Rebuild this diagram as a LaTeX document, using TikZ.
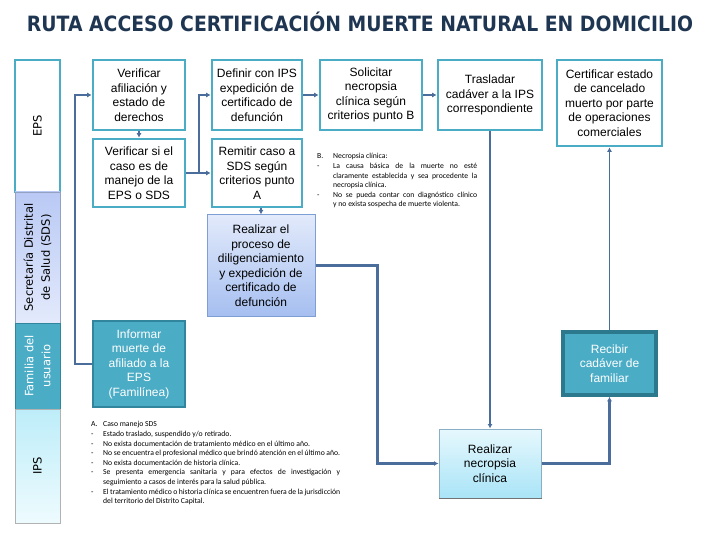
\documentclass[tikz,border=0pt]{standalone}
\usepackage{fontspec}
\setmainfont{Liberation Sans}
\newfontfamily\titlefont{DejaVu Sans}
\newfontfamily\notefont{Carlito}
\newfontfamily\lanefont{DejaVu Sans}
\usetikzlibrary{arrows.meta}
\hyphenpenalty=10000
\exhyphenpenalty=10000
\definecolor{tealb}{HTML}{4BACC6}
\definecolor{tealdk}{HTML}{31859C}
\definecolor{conncol}{HTML}{4A6D9C}
\definecolor{navyt}{HTML}{1F3652}
\definecolor{procbord}{HTML}{7E9FD4}
\definecolor{proctop}{HTML}{E2EAFB}
\definecolor{procbot}{HTML}{A6BFF0}
\definecolor{necbord}{HTML}{8AAEC4}
\definecolor{nectop}{HTML}{E6F8FD}
\definecolor{necbot}{HTML}{A9E4F7}
\definecolor{sdsa}{HTML}{E3EAFC}
\definecolor{sdsb}{HTML}{B9C9F4}
\definecolor{ipsa}{HTML}{EEFBFE}
\definecolor{ipsb}{HTML}{BDEDF9}
\tikzset{
  wbox/.style={draw=tealb, line width=2.6pt, fill=white, align=center, inner sep=1pt,
    font=\fontsize{12}{14.5}\selectfont},
  fbox/.style={draw=tealdk, line width=2.6pt, fill=tealb, text=white, align=center, inner sep=1pt,
    font=\fontsize{12}{14.5}\selectfont},
  lanebox/.style={rotate=90, align=center, inner sep=0pt, font=\lanefont\fontsize{11.5}{17}\selectfont},
  conn/.style={draw=conncol, line width=2.2pt, -{Latex[length=4.5pt,width=5pt]}},
  connthin/.style={draw=conncol, line width=1.4pt, -{Latex[length=4.5pt,width=5pt]}},
  notetxt/.style={anchor=north west, inner sep=0pt, font=\notefont\fontsize{7.7}{9.6}\selectfont}
}
\begin{document}
\begin{tikzpicture}[x=1pt,y=-1pt]
\useasboundingbox (0,0) rectangle (720,540);
% title
\node[text=navyt] (title) at (360,22) {\scalebox{1}[1.12]{\resizebox{666pt}{!}{\titlefont\bfseries RUTA ACCESO CERTIFICACIÓN MUERTE NATURAL EN DOMICILIO}}};
% lanes
\node[lanebox, draw=tealb, line width=2.5pt, fill=white, minimum width=132pt, minimum height=45pt] (leps) at (37.5,126) {EPS};
\node[lanebox, draw=sdsb!80!black, line width=0.6pt, top color=sdsb, bottom color=sdsa, minimum width=131pt, minimum height=45pt] (lsds) at (37.5,257.5) {Secretaría Distrital\\de Salud (SDS)};
\node[lanebox, draw=tealdk, line width=1pt, fill=tealb, text=white, minimum width=86pt, minimum height=45pt] (lfam) at (37.5,366) {Familia del\\usuario};
\node[lanebox, draw=black!30, line width=0.6pt, top color=ipsb, bottom color=ipsa, minimum width=114pt, minimum height=45pt] (lips) at (37.5,466) {IPS};
% boxes
\node[wbox, minimum width=92pt, minimum height=70pt] (ver) at (139,95) {Verificar\\afiliación y\\estado de\\derechos};
\node[wbox, minimum width=92pt, minimum height=68pt] (versi) at (139,173) {Verificar si el\\caso es de\\manejo de la\\EPS o SDS};
\node[wbox, minimum width=90pt, minimum height=70pt] (def) at (257,95) {Definir con IPS\\expedición de\\certificado de\\defunción};
\node[wbox, minimum width=90pt, minimum height=68pt] (rem) at (257,173) {Remitir caso a\\SDS según\\criterios punto\\A};
\node[wbox, minimum width=102pt, minimum height=70pt] (sol) at (371,95) {Solicitar\\necropsia\\clínica según\\criterios punto B};
\node[wbox, minimum width=104pt, minimum height=70pt] (tra) at (490,95) {Trasladar\\cadáver a la IPS\\correspondiente};
\node[wbox, minimum width=105pt, minimum height=86pt] (cer) at (609.5,103) {Certificar estado\\de cancelado\\muerto por parte\\de operaciones\\comerciales};
\node[draw=procbord, line width=1pt, top color=proctop, bottom color=procbot, align=center, inner sep=1pt,
  font=\fontsize{12}{14.5}\selectfont, minimum width=108pt, minimum height=101pt] (proc) at (261,265.5) {Realizar el\\proceso de\\diligenciamiento\\y expedición de\\certificado de\\defunción};
\node[fbox, minimum width=92pt, minimum height=86pt] (inf) at (139,364) {Informar\\muerte de\\afiliado a la\\EPS\\(Familínea)};
\node[fbox, line width=3.5pt, draw=tealdk!90!black, minimum width=93pt, minimum height=63pt] (rec) at (609.5,363.5) {Recibir\\cadáver de\\familiar};
\node[draw=necbord, line width=1pt, top color=nectop, bottom color=necbot, align=center, inner sep=1pt,
  font=\fontsize{12}{14.5}\selectfont, minimum width=102pt, minimum height=69pt] (nec) at (490,463.5) {Realizar\\necropsia\\clínica};
\draw[draw=black!55, line width=1.5pt] (nec.south west) -- (nec.south east);
% notes
\node[notetxt] (noteb) at (317,152) {\begin{tabular}{@{}p{16pt}@{}p{144pt}@{}}
B. & Necropsia clínica:\\
- & La causa básica de la muerte no esté\linebreak claramente establecida y sea procedente la\linebreak necropsia clínica.\\
- & No se pueda contar con diagnóstico clínico\linebreak y no exista sospecha de muerte violenta.
\end{tabular}};
\node[notetxt] (notea) at (91,420) {\begin{tabular}{@{}p{12pt}@{}p{237pt}@{}}
A. & Caso manejo SDS\\
- & Estado traslado, suspendido y/o retirado.\\
- & No exista documentación de tratamiento médico en el último año.\\
- & No se encuentra el profesional médico que brindó atención en el último año.\\
- & No exista documentación de historia clínica.\\
- & Se presenta emergencia sanitaria y para efectos de investigación y\linebreak seguimiento a casos de interés para la salud pública.\\
- & El tratamiento médico o historia clínica se encuentren fuera de la jurisdicción\linebreak del territorio del Distrito Capital.
\end{tabular}};
% connectors
\draw[conn] (inf.west) -- ++(-17,0) |- (ver.west);
\draw[conn] (ver.south) -- (versi.north);
\draw[conn] (versi.east) -- ++(13,0) |- (def.west);
\draw[conn] (versi.east) -- (rem.west);
\draw[conn] (def.east) -- (sol.west);
\draw[conn] (sol.east) -- (tra.west);
\draw[conn] (proc.north |- rem.south) -- (proc.north);
\draw[conn] (proc.east) -- ++(62,0) |- (nec.west);
\draw[conn] (tra.south) -- (nec.north);
\draw[conn] (nec.east) -| (rec.south);
\draw[connthin] (rec.north) -- (cer.south);
\end{tikzpicture}
\end{document}
